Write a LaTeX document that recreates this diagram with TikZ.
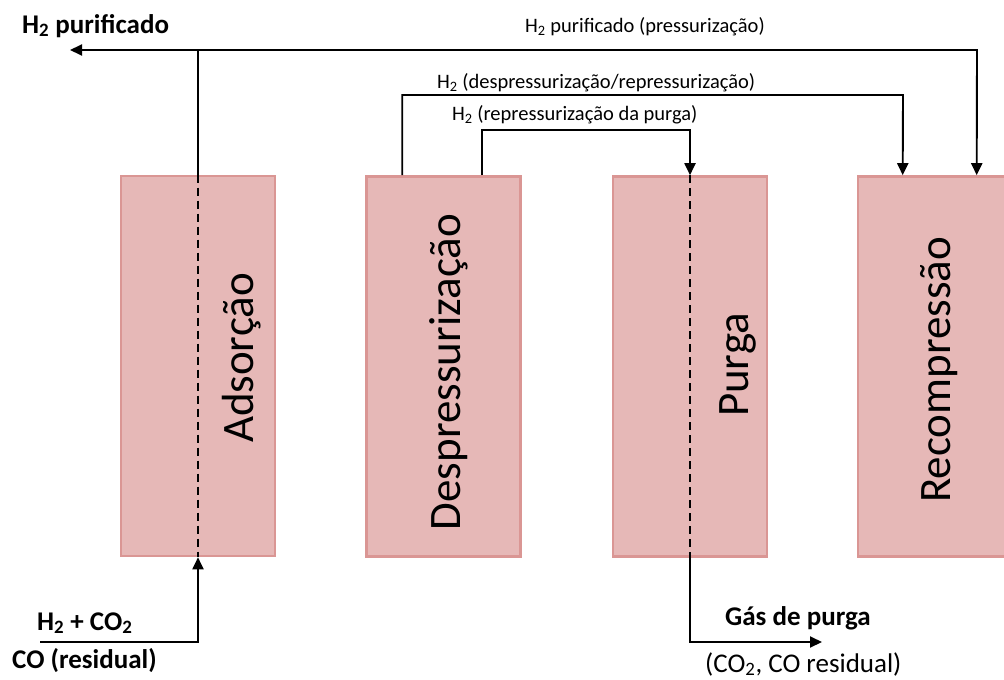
\documentclass[tikz,border=0pt]{standalone}
\usepackage{fontspec}
\setmainfont{Carlito}
\usetikzlibrary{arrows.meta}
\definecolor{boxfill}{RGB}{230,184,183}
\definecolor{boxline}{RGB}{218,150,148}
\begin{document}
\begin{tikzpicture}[x=1pt,y=-1pt,
  stage/.style={draw=boxline,fill=boxfill,line width=2.6pt,inner sep=0pt,
    minimum width=154pt,minimum height=380pt},
  stagelabel/.style={rotate=90,anchor=base,inner sep=0pt,
    font=\fontsize{45}{54}\selectfont},
  flow/.style={line width=1.9pt,-{Triangle[length=12pt,width=11pt]}},
  dashline/.style={line width=1.9pt,dash pattern=on 8pt off 5pt},
  smalltxt/.style={anchor=base west,inner sep=0pt,font=\fontsize{20.5}{24}\selectfont},
  boldtxt/.style={anchor=base west,inner sep=0pt,font=\fontsize{27}{32}\selectfont\bfseries},
  regtxt/.style={anchor=base west,inner sep=0pt,font=\fontsize{27}{32}\selectfont}]
\clip (0,0) rectangle (1004,680);
\fill[white] (0,0) rectangle (1004,680);

% stages
\node[stage] (ads) at (198,366) {};
\node[stage] (dep) at (443.5,366.5) {};
\node[stage] (pur) at (690,366.5) {};
\node[stage] (rec) at (935,366.5) {};

\node[stagelabel] (lads) at (253,358) {Adsorção};
\node[stagelabel] (ldep) at (460,372) {Despressurização};
\node[stagelabel] (lpur) at (748,365) {Purga};
\node[stagelabel] (lrec) at (950,370) {Recompressão};

% connection points
\coordinate (h2out) at (70,50);
\coordinate (topR) at (977,50);
\coordinate (t2) at (903,95);
\coordinate (t3) at (690,130);
\coordinate (depA) at ([xshift=37pt]dep.north west);
\coordinate (depB) at ([xshift=117pt]dep.north west);
\coordinate (recA) at ([xshift=46pt]rec.north west);
\coordinate (recB) at ([xshift=120pt]rec.north west);
\coordinate (inp) at (40,642);
\coordinate (pout) at (822,642);

% dashed lines through beds
\draw[dashline] (ads.north) -- (ads.south);
\draw[dashline] (pur.north) -- (pur.south);

% flows
\draw[flow] (ads.north) |- (h2out);
\draw[flow] (ads.north) |- (topR) -- (recB);
\draw[flow] (depA) |- (t2) -- (recA);
\draw[flow] (depB) |- (t3) -- (pur.north);
\draw[flow] (inp) -| (ads.south);
\draw[flow] (pur.south) |- (pout);

% texts
\node[boldtxt] (tH2p) at (22,33) {H\textsubscript{2} purificado};
\node[smalltxt] (tpress) at (525,32) {H\textsubscript{2} purificado (pressurização)};
\node[smalltxt] (tdesp) at (437,88) {H\textsubscript{2} (despressurização/repressurização)};
\node[smalltxt] (trep) at (452,120) {H\textsubscript{2} (repressurização da purga)};
\node[boldtxt] (tin1) at (37,630) {H\textsubscript{2} + CO\textsubscript{2}};
\node[boldtxt] (tin2) at (12,668) {CO (residual)};
\node[boldtxt] (tgas) at (725,625) {Gás de purga};
\node[regtxt] (tgas2) at (705,672) {(CO\textsubscript{2}, CO residual)};
\end{tikzpicture}
\end{document}
